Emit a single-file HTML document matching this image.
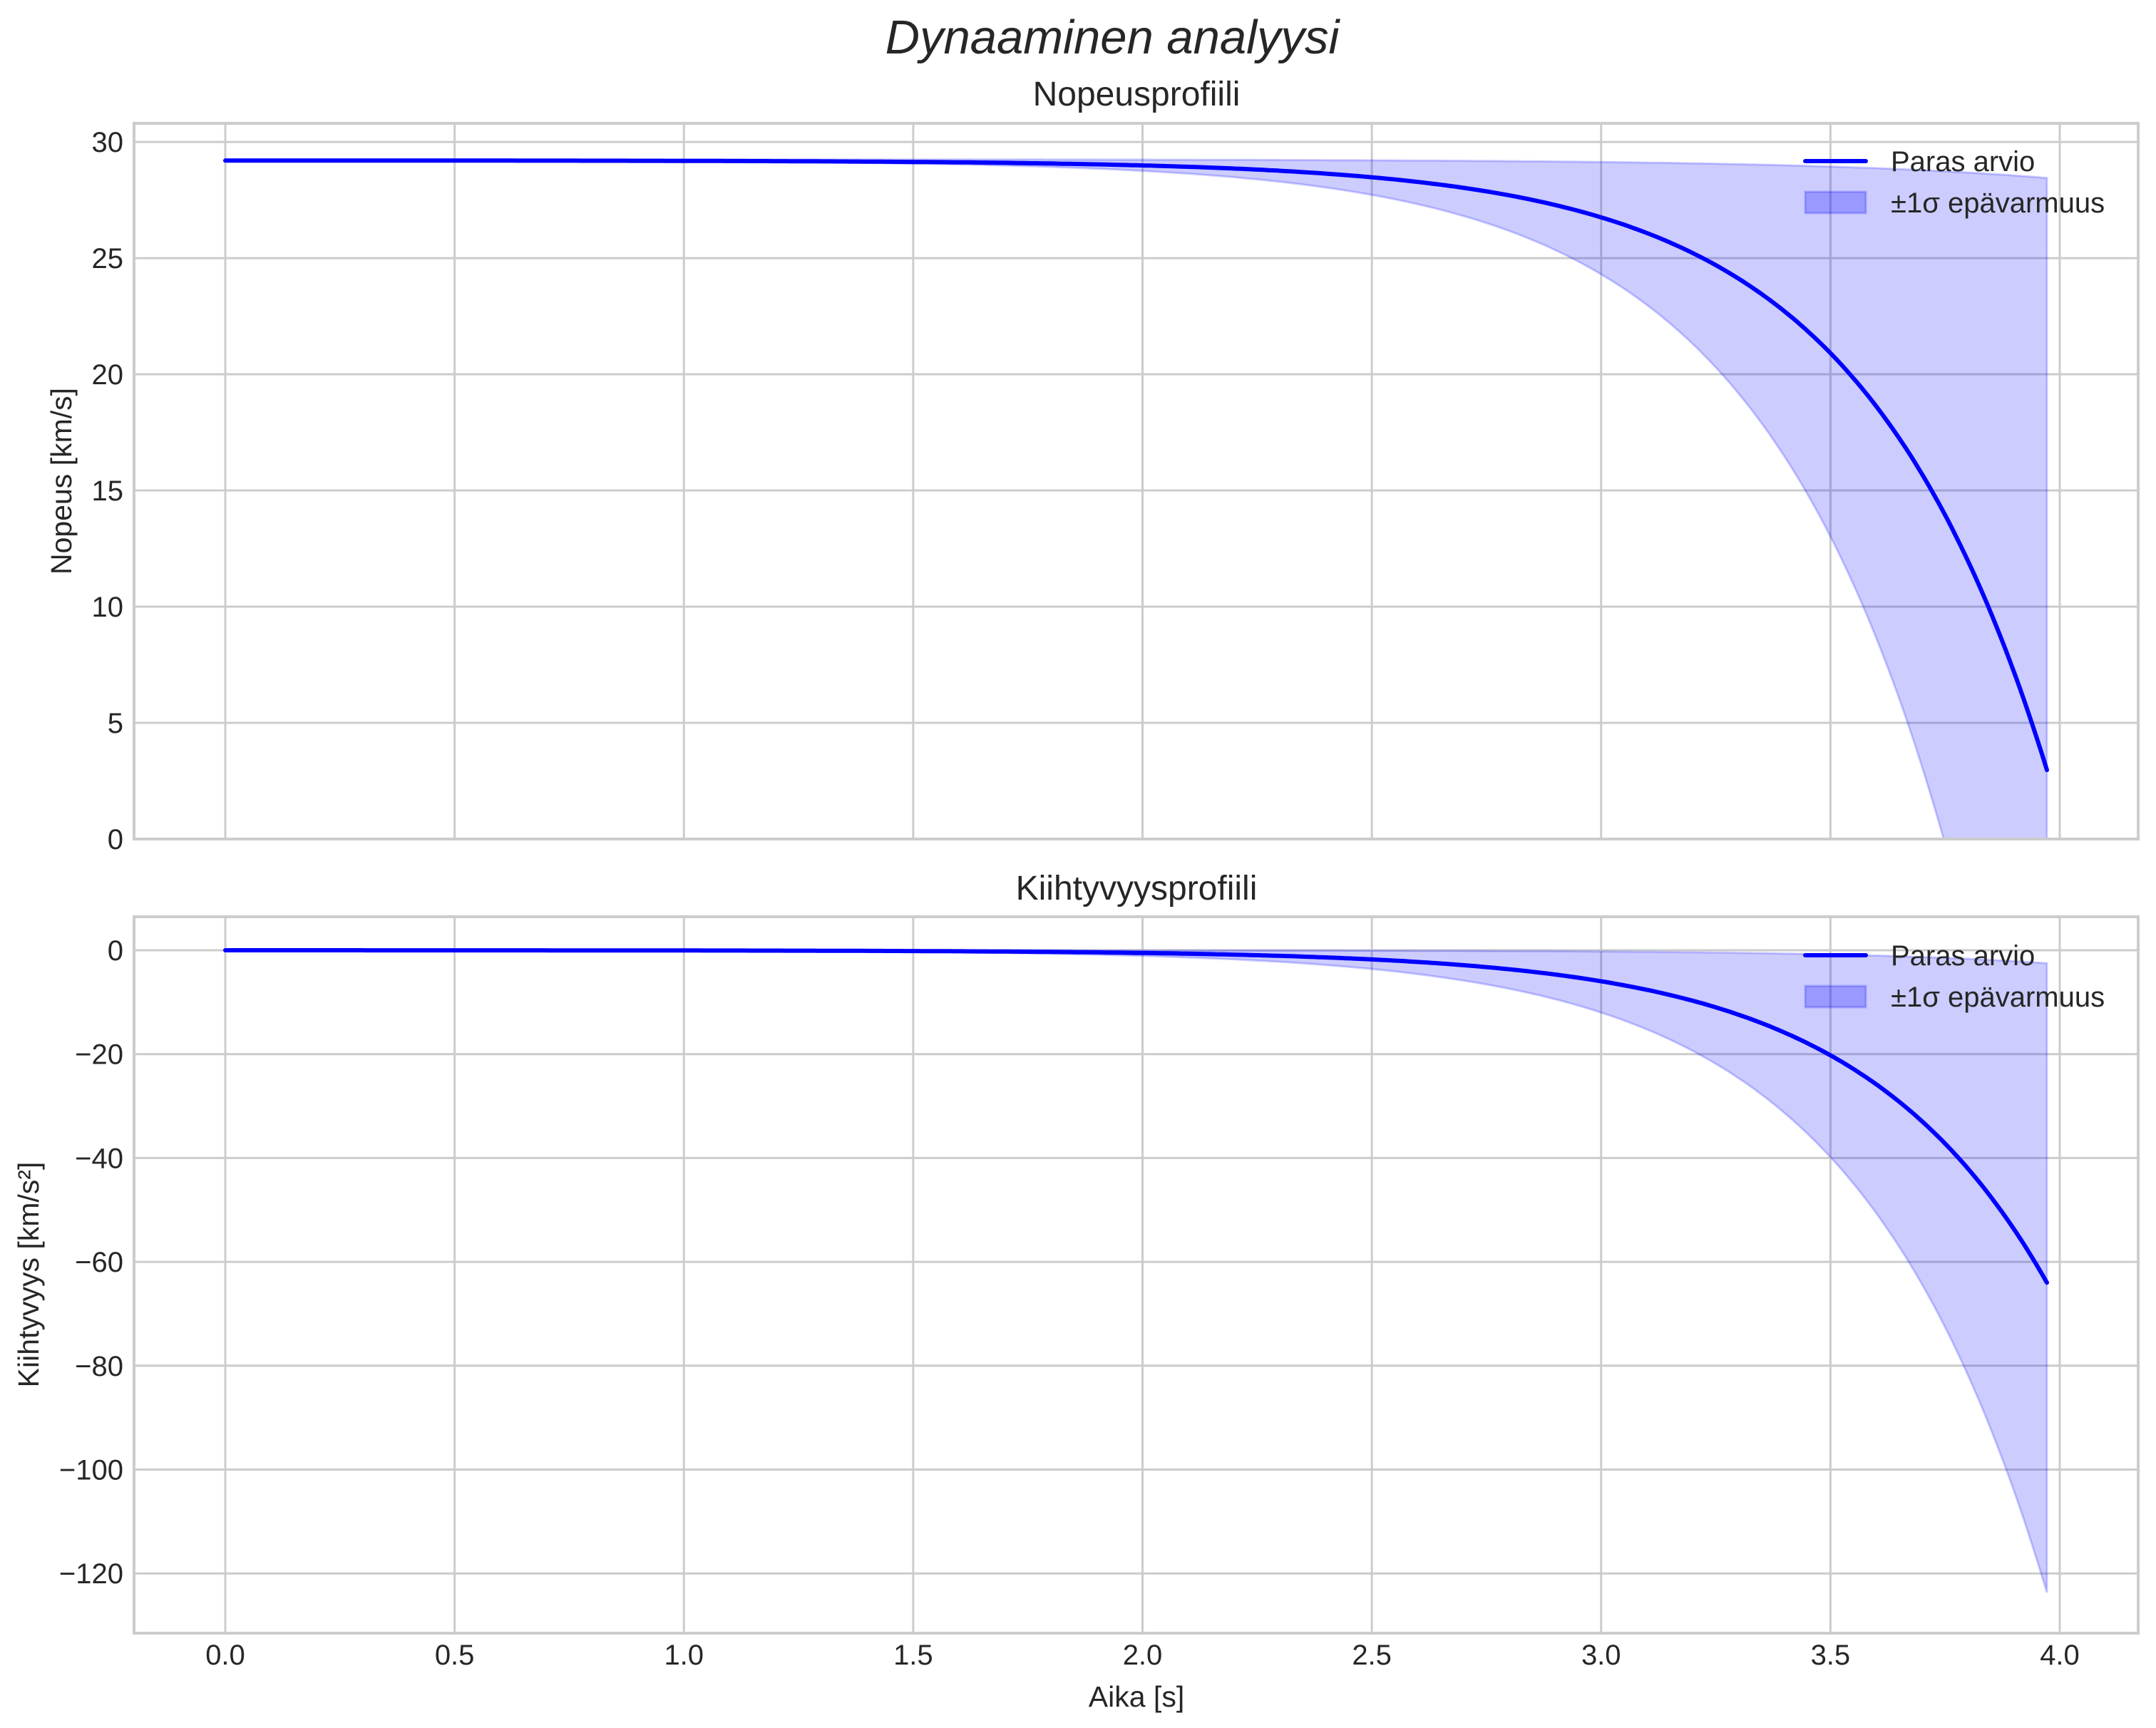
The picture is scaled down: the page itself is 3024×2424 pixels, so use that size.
<!DOCTYPE html>
<html><head><meta charset="utf-8"><style>
html,body{margin:0;padding:0;background:#fff;}
svg{display:block;}
text{font-family:"Liberation Sans",sans-serif;fill:#262626;}
</style></head><body>
<svg id="s" width="3024" height="2424" viewBox="0 0 3024 2424" xmlns="http://www.w3.org/2000/svg">
<rect width="3024" height="2424" fill="#fff"/>
<g id="g"></g>
<text x="1560" y="75" font-size="67" font-style="italic" text-anchor="middle">Dynaaminen analyysi</text>
<text x="1594" y="148" font-size="48" text-anchor="middle">Nopeusprofiili</text>
<text x="1594" y="1262" font-size="48" text-anchor="middle">Kiihtyvyysprofiili</text>
<text x="1594" y="2394" font-size="41" text-anchor="middle">Aika [s]</text>
<text transform="translate(100,675) rotate(-90)" font-size="41" text-anchor="middle">Nopeus [km/s]</text>
<text transform="translate(54,1788) rotate(-90)" font-size="41" text-anchor="middle">Kiihtyvyys [km/s²]</text>
</svg>
<script>
var g=document.getElementById('g');
var NS='http://www.w3.org/2000/svg';
function el(n,a,t){var e=document.createElementNS(NS,n);for(var k in a)e.setAttribute(k,a[k]);if(t!==undefined)e.textContent=t;g.appendChild(e);return e;}
var L=188,R=2999;
function X(t){return 316+t*643.25;}
var axes=[{top:173,bot:1177,y0:0,y1:30.8,ticks:[0,5,10,15,20,25,30]},
{top:1286,bot:2291,y0:-131.5,y1:6.45,ticks:[0,-20,-40,-60,-80,-100,-120]}];
var k=2.44,A=64/Math.exp(k*3.972),T=3.972;
function v(t){return 29.2-(A/k)*(Math.exp(k*t)-1);}
function a(t){return -A*Math.exp(k*t);}
function vlo(t){return 29.2-4.9*Math.exp(2.39*(t-3))+4.9*Math.exp(-2.39*3);}
function vhi(t){return 29.25-0.8*Math.exp(2.0*(t-T));}
function alo(t){return -12*Math.exp(2.4*(t-3));}
function ahi(t){return -2.5*Math.exp(2.4*(t-T));}
axes.forEach(function(ax,i){
  function Y(y){return ax.bot-(y-ax.y0)/(ax.y1-ax.y0)*(ax.bot-ax.top);}
  ax.ticks.forEach(function(tv){var y=Y(tv);
    el('line',{x1:L,x2:R,y1:y,y2:y,stroke:'#cccccc','stroke-width':3});
    el('text',{x:173,y:y+14,'font-size':40,'text-anchor':'end'},(tv<0?'\u2212'+(-tv):''+tv));});
  for(var j=0;j<=8;j++){var x=X(j*0.5);
    el('line',{x1:x,x2:x,y1:ax.top,y2:ax.bot,stroke:'#cccccc','stroke-width':3});
    if(i==1)el('text',{x:x,y:2335,'font-size':40,'text-anchor':'middle'},(j*0.5).toFixed(1));}
  var lo=i==0?vlo:alo,hi=i==0?vhi:ahi,mid=i==0?v:a;
  var N=400,up=[],dn=[],ln=[];
  for(var n=0;n<=N;n++){var t=T*n/N;
    var yl=Y(lo(t)),yh=Y(hi(t)),ym=Y(mid(t));
    up.push(X(t).toFixed(1)+','+yh.toFixed(1));dn.push(X(t).toFixed(1)+','+yl.toFixed(1));ln.push(X(t).toFixed(1)+','+ym.toFixed(1));}
  dn.reverse();
  var cid='c'+i;
  var cp=el('clipPath',{id:cid});cp.appendChild((function(){var r=document.createElementNS(NS,'rect');r.setAttribute('x',L);r.setAttribute('y',ax.top);r.setAttribute('width',R-L);r.setAttribute('height',ax.bot-ax.top);return r;})());
  el('path',{d:'M'+up.join('L')+'L'+dn.join('L')+'Z',fill:'rgba(0,0,255,0.2)',stroke:'rgba(0,0,255,0.2)','stroke-width':3,'clip-path':'url(#'+cid+')'});
  el('polyline',{points:ln.join(' '),fill:'none',stroke:'#0000ff','stroke-width':6,'stroke-linecap':'round','clip-path':'url(#'+cid+')'});
  el('rect',{x:L,y:ax.top,width:R-L,height:ax.bot-ax.top,fill:'none',stroke:'#cccccc','stroke-width':4});
  var ly=i==0?226:1340;
  el('line',{x1:2532,x2:2617,y1:ly,y2:ly,stroke:'#0000ff','stroke-width':6,'stroke-linecap':'round'});
  el('text',{x:2652,y:ly+14,'font-size':40},'Paras arvio');
  el('rect',{x:2532,y:ly+43,width:85,height:30,fill:'rgba(0,0,255,0.25)',stroke:'rgba(0,0,255,0.2)','stroke-width':3});
  el('text',{x:2652,y:ly+72,'font-size':40},'\u00b11\u03c3 ep\u00e4varmuus');
});
</script>
</body></html>
